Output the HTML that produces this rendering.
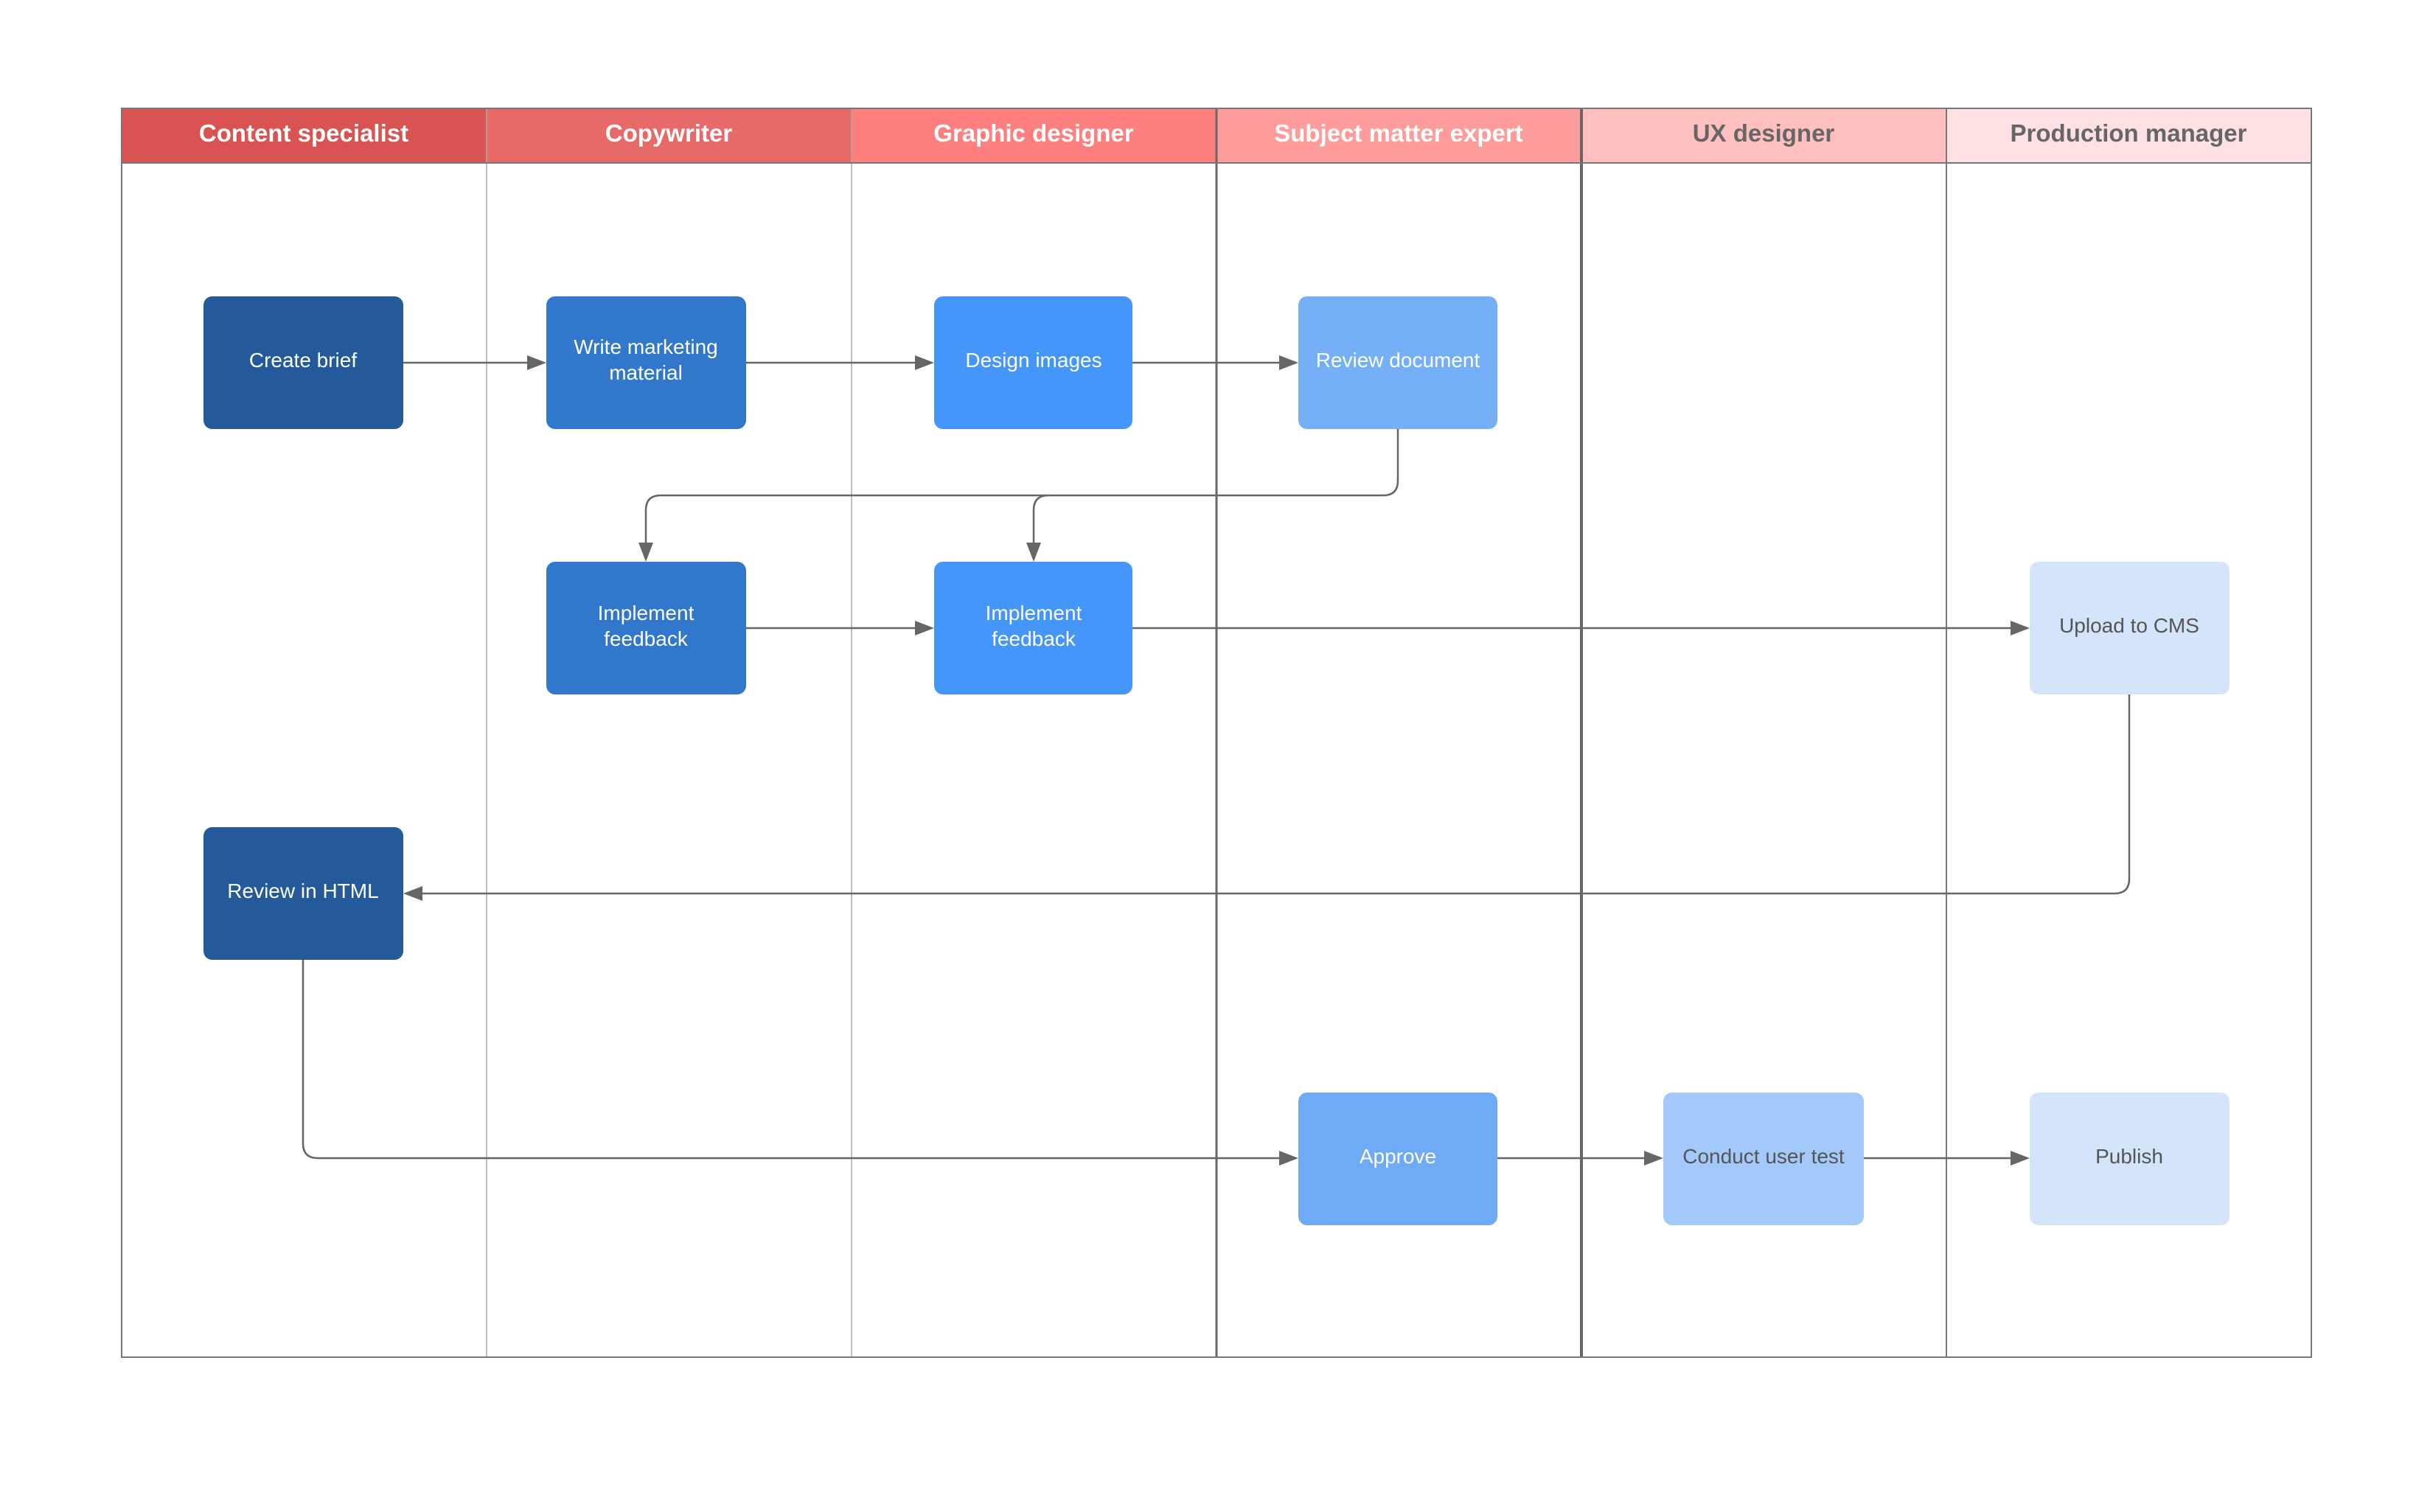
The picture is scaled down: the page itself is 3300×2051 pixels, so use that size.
<!DOCTYPE html>
<html><head><style>
html,body{margin:0;padding:0;background:#fff;}
svg{display:block;}
text{font-family:"Liberation Sans",Arial,sans-serif;}
</style></head><body>
<svg width="3300" height="2051" viewBox="0 0 3300 2051" xmlns="http://www.w3.org/2000/svg">
<defs>
<marker id="a" markerWidth="10" markerHeight="10" refX="9" refY="5" orient="auto" markerUnits="userSpaceOnUse" viewBox="0 0 10 10">
</marker>
</defs>
<rect width="3300" height="2051" fill="#fff"/>
<!-- headers -->
<rect x="165" y="147" width="495" height="74" fill="#d85352"/>
<rect x="660" y="147" width="495" height="74" fill="#e86a68"/>
<rect x="1155" y="147" width="495" height="74" fill="#fd7f7e"/>
<rect x="1650" y="147" width="495" height="74" fill="#fe9c9b"/>
<rect x="2145" y="147" width="495" height="74" fill="#ffbfbf"/>
<rect x="2640" y="147" width="495" height="74" fill="#fee2e3"/>
<g font-size="33" font-weight="bold" text-anchor="middle">
<text x="412" y="192" fill="#fff">Content specialist</text>
<text x="907" y="192" fill="#fff">Copywriter</text>
<text x="1402" y="192" fill="#fff">Graphic designer</text>
<text x="1897" y="192" fill="#fff">Subject matter expert</text>
<text x="2392" y="192" fill="#666">UX designer</text>
<text x="2887" y="192" fill="#666">Production manager</text>
</g>
<!-- lane lines -->
<line x1="660" y1="147" x2="660" y2="1841" stroke="#aaa" stroke-width="1.5"/>
<line x1="1155" y1="147" x2="1155" y2="1841" stroke="#aaa" stroke-width="1.5"/>
<line x1="1650" y1="147" x2="1650" y2="1841" stroke="#666" stroke-width="3"/>
<line x1="2145" y1="147" x2="2145" y2="1841" stroke="#666" stroke-width="4"/>
<line x1="2640" y1="147" x2="2640" y2="1841" stroke="#777" stroke-width="2"/>
<line x1="165" y1="221" x2="3135" y2="221" stroke="#777" stroke-width="2"/>
<rect x="165" y="147" width="2970" height="1694" fill="none" stroke="#777" stroke-width="2"/>
<!-- connectors -->
<g fill="none" stroke="#666" stroke-width="2.5">
<path d="M547 492 H720"/>
<path d="M1012 492 H1246"/>
<path d="M1536 492 H1740"/>
<path d="M1896 581 V652 Q1896 672 1876 672 H896 Q876 672 876 692 V742"/>
<path d="M1422 672 Q1402 672 1402 692 V742"/>
<path d="M1012 852 H1246"/>
<path d="M1536 852 H2732"/>
<path d="M2888 941 V1192 Q2888 1212 2868 1212 H568"/>
<path d="M411 1301 V1551 Q411 1571 431 1571 H1740"/>
<path d="M2031 1571 H2235"/>
<path d="M2528 1571 H2732"/>
</g>
<g fill="#666">
<polygon points="741,492 715,482 715,502"/>
<polygon points="1267,492 1241,482 1241,502"/>
<polygon points="1761,492 1735,482 1735,502"/>
<polygon points="876,762 866,736 886,736"/>
<polygon points="1402,762 1392,736 1412,736"/>
<polygon points="1267,852 1241,842 1241,862"/>
<polygon points="2753,852 2727,842 2727,862"/>
<polygon points="547,1212 573,1202 573,1222"/>
<polygon points="1761,1571 1735,1561 1735,1581"/>
<polygon points="2256,1571 2230,1561 2230,1581"/>
<polygon points="2753,1571 2727,1561 2727,1581"/>
</g>
<!-- nodes -->
<g>
<rect x="276" y="402" width="271" height="180" rx="12" fill="#245a9a"/>
<rect x="741" y="402" width="271" height="180" rx="12" fill="#3178cc"/>
<rect x="1267" y="402" width="269" height="180" rx="12" fill="#4596fa"/>
<rect x="1761" y="402" width="270" height="180" rx="12" fill="#74aff8"/>
<rect x="741" y="762" width="271" height="180" rx="12" fill="#3178cc"/>
<rect x="1267" y="762" width="269" height="180" rx="12" fill="#4596fa"/>
<rect x="2753" y="762" width="271" height="180" rx="12" fill="#d4e5fb"/>
<rect x="276" y="1122" width="271" height="180" rx="12" fill="#245a9a"/>
<rect x="1761" y="1482" width="270" height="180" rx="12" fill="#6eaaf5"/>
<rect x="2256" y="1482" width="272" height="180" rx="12" fill="#a3c9fa"/>
<rect x="2753" y="1482" width="271" height="180" rx="12" fill="#d4e5fb"/>
</g>
<g font-size="28" text-anchor="middle" fill="#fff">
<text x="411" y="498">Create brief</text>
<text x="876" y="480">Write marketing</text>
<text x="876" y="515">material</text>
<text x="1402" y="498">Design images</text>
<text x="1896" y="498">Review document</text>
<text x="876" y="841">Implement</text>
<text x="876" y="876">feedback</text>
<text x="1402" y="841">Implement</text>
<text x="1402" y="876">feedback</text>
<text x="2888" y="858" fill="#555">Upload to CMS</text>
<text x="411" y="1218">Review in HTML</text>
<text x="1896" y="1578">Approve</text>
<text x="2392" y="1578" fill="#555">Conduct user test</text>
<text x="2888" y="1578" fill="#555">Publish</text>
</g>
</svg>
</body></html>
